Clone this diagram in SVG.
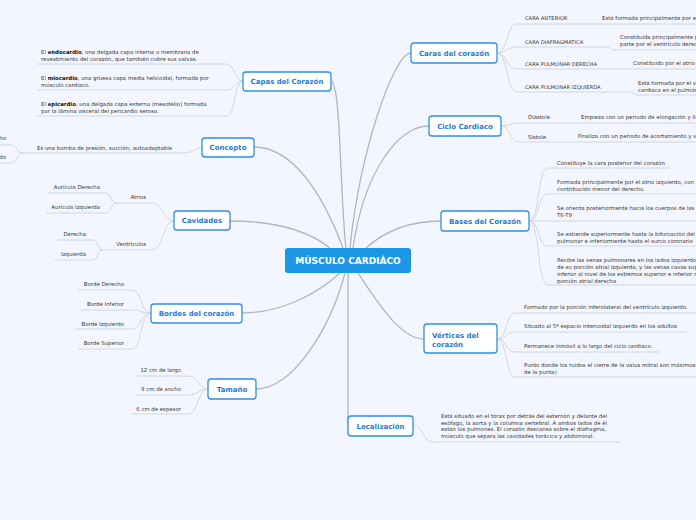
<svg xmlns="http://www.w3.org/2000/svg" width="696" height="520" viewBox="0 0 696 520">
<style>
.main{fill:none;stroke:#b3b6bd;stroke-width:1.3}
.sub{fill:none;stroke:#cfd3dc;stroke-width:0.9}
.box{fill:#fff;stroke:#2f8fe9;stroke-width:1.3}
.tt{font-family:"DejaVu Sans",Verdana,sans-serif;font-size:7px;font-weight:bold;fill:#1f7bd8;text-anchor:middle}
.t{font-family:"DejaVu Sans",Verdana,sans-serif;font-size:5.4px;fill:#383838}
.c{font-size:5.2px}
.e{text-anchor:end}
.b{font-weight:bold;fill:#111}
</style>
<rect width="696" height="520" fill="#f3f6fe"/>
<g id="connectors">
<path class="main" d="M331,81 C341,81 340,200 346,248"/>
<path class="main" d="M254,147 C292,147 322,192 343,248"/>
<path class="main" d="M230,221 C280,221 310,232 330,248"/>
<path class="main" d="M411,53 C394,53 360,150 350,248"/>
<path class="main" d="M429,126 C398,126 364,172 353,248"/>
<path class="main" d="M441,221 C410,221 386,230 366,248"/>
<path class="main" d="M242,313 C280,313 316,295 340,273"/>
<path class="main" d="M256,389 C292,389 330,330 345,273"/>
<path class="main" d="M424,339 C400,339 376,300 358,273"/>
<path class="main" d="M348,273 L348,425"/>
<path class="sub" d="M243,81 C234,81 236,64 226,64 L37,64"/>
<path class="sub" d="M243,81 C234,81 236,90 226,90 L37,90"/>
<path class="sub" d="M243,81 C234,81 236,116 226,116 L37,116"/>
<path class="sub" d="M202,148 C194,148 193,153 185,153 L23,153"/>
<path class="sub" d="M23,153 C16,153 18,145 10,145 L0,145"/>
<path class="sub" d="M23,153 C16,153 18,163 10,163 L0,163"/>
<path class="sub" d="M174,221 C163,221 163,203 152,203 L117,203"/>
<path class="sub" d="M174,221 C163,221 163,250 152,250 L103,250"/>
<path class="sub" d="M117,203 C110,203 112,193 105,193 L48,193"/>
<path class="sub" d="M117,203 C110,203 112,213 105,213 L46,213"/>
<path class="sub" d="M103,250 C97,250 99,240 92,240 L58,240"/>
<path class="sub" d="M103,250 C97,250 99,260 92,260 L55,260"/>
<path class="sub" d="M151,313 C140,313 142,290 132,290 L78,290"/>
<path class="sub" d="M151,313 C141,313 140,310 132,310 L80,310"/>
<path class="sub" d="M151,313 C141,313 141,329 132,329 L75,329"/>
<path class="sub" d="M151,313 C140,313 142,349 132,349 L78,349"/>
<path class="sub" d="M208,389 C198,389 198,376 188,376 L135,376"/>
<path class="sub" d="M208,389 C198,389 198,395 188,395 L137,395"/>
<path class="sub" d="M208,389 C198,389 198,414 188,414 L131,414"/>
<path class="sub" d="M497,53 C508,53 506,24 517,24 L696,24"/>
<path class="sub" d="M497,53 C506,53 507,47 517,47 L606,47 C611,47 610,50 615,50 L696,50"/>
<path class="sub" d="M497,53 C507,53 506,69 517,69 L696,69"/>
<path class="sub" d="M497,53 C508,53 506,92 517,92 L630,92 C634,92 633,95 638,95 L696,95"/>
<path class="sub" d="M501,126 C510,126 510,123 520,123 L696,123"/>
<path class="sub" d="M501,126 C512,126 508,142 520,142 L696,142"/>
<path class="sub" d="M529,221 C540,221 537,168 548,168 L670,168"/>
<path class="sub" d="M529,221 C540,221 537,194 548,194 L696,194"/>
<path class="sub" d="M529,221 L696,221"/>
<path class="sub" d="M529,221 C540,221 537,246 548,246 L696,246"/>
<path class="sub" d="M529,221 C540,221 537,285 548,285 L696,285"/>
<path class="sub" d="M497,339 C508,339 505,313 515,313 L696,313"/>
<path class="sub" d="M497,339 C508,339 505,332 515,332 L687,332"/>
<path class="sub" d="M497,339 C508,339 505,352 515,352 L660,352"/>
<path class="sub" d="M497,339 C508,339 505,377 515,377 L696,377"/>
<path class="sub" d="M413,425 C424,425 422,442 433,442 L620,442"/>
</g>
<g id="center">
<rect x="285" y="248" width="126" height="25" rx="3" fill="#1b97e5"/>
<text x="348" y="264.2" font-family="DejaVu Sans,Verdana,sans-serif" font-size="9" font-weight="bold" fill="#fff" text-anchor="middle">MÚSCULO CARDIÁCO</text>
</g>
<g id="capas">
<rect class="box" x="243" y="72" width="88" height="19" rx="3"/>
<text class="tt" x="287" y="84">Capas del Corazón</text>
<text class="t" x="41" y="54">El <tspan class="b">endocardio</tspan>, una delgada capa interna o membrana de</text>
<text class="t" x="41" y="60.5">revestimiento del corazón, que también cubre sus valvas.</text>
<text class="t" x="41" y="80">El <tspan class="b">miocardio</tspan>, una gruesa capa media helicoidal, formada por</text>
<text class="t" x="41" y="86.5">músculo cardiaco.</text>
<text class="t" x="41" y="105.5">El <tspan class="b">epicardio</tspan>, una delgada capa externa (mesotelio) formada</text>
<text class="t" x="41" y="112.5">por la lámina visceral del pericardio seroso.</text>
</g>
<g id="concepto">
<rect class="box" x="202" y="138" width="52" height="19" rx="3"/>
<text class="tt" x="228" y="150">Concepto</text>
<text class="t" x="37" y="149.5">Es una bomba de presión, succión, autoadaptable</text>
<text class="t e" x="6" y="140">Derecho</text>
<text class="t e" x="6" y="159">Izquierdo</text>
</g>
<g id="cavidades">
<rect class="box" x="174" y="211" width="56" height="19" rx="3"/>
<text class="tt" x="202" y="223">Cavidades</text>
<text class="t e" x="146" y="199">Atrios</text>
<text class="t e" x="146" y="246">Ventrículos</text>
<text class="t e" x="100" y="189">Aurícula Derecha</text>
<text class="t e" x="100" y="209">Aurícula Izquierda</text>
<text class="t e" x="86" y="235.5">Derecha</text>
<text class="t e" x="86" y="256">Izquierda</text>
</g>
<g id="bordes">
<rect class="box" x="151" y="304" width="91" height="19" rx="3"/>
<text class="tt" x="196.5" y="316">Bordes del corazón</text>
<text class="t e" x="124" y="286">Borde Derecho</text>
<text class="t e" x="124" y="306">Borde Inferior</text>
<text class="t e" x="124" y="325.5">Borde Izquierdo</text>
<text class="t e" x="124" y="345">Borde Superior</text>
</g>
<g id="tamano">
<rect class="box" x="208" y="379" width="48" height="20" rx="3"/>
<text class="tt" x="232" y="391.5">Tamaño</text>
<text class="t e" x="181" y="372">12 cm de largo</text>
<text class="t e" x="181" y="391">9 cm de ancho</text>
<text class="t e" x="181" y="411">6 cm de espesor</text>
</g>
<g id="caras">
<rect class="box" x="411" y="43" width="86" height="20" rx="3"/>
<text class="tt" x="454" y="55.5">Caras del corazón</text>
<text class="t c" x="525" y="20">CARA ANTERIOR</text>
<text class="t c" x="525" y="44">CARA DIAFRAGMÁTICA</text>
<text class="t c" x="525" y="66">CARA PULMONAR DERECHA</text>
<text class="t c" x="525" y="89">CARA PULMONAR IZQUIERDA</text>
<text class="t" x="602" y="20">Está formada principalmente por el ventrículo derecho.</text>
<text class="t" x="620" y="39">Constituida principalmente por el ventrículo izquierdo y en</text>
<text class="t" x="620" y="45.5">parte por el ventrículo derecho.</text>
<text class="t" x="633" y="65">Constituido por el atrio derecho.</text>
<text class="t" x="638" y="85">Está formada por el ventrículo izquierdo; forma la impresión</text>
<text class="t" x="638" y="91.5">cardiaca en el pulmón izquierdo.</text>
</g>
<g id="ciclo">
<rect class="box" x="429" y="116" width="72" height="20" rx="3"/>
<text class="tt" x="465" y="128.5">Ciclo Cardiaco</text>
<text class="t" x="528" y="119">Diástole</text>
<text class="t" x="528" y="139">Sístole</text>
<text class="t" x="581" y="118.5">Empieza con un periodo de elongación y llenado ventricular</text>
<text class="t" x="578" y="138">Finaliza con un periodo de acortamiento y vaciamiento ventricular</text>
</g>
<g id="bases">
<rect class="box" x="441" y="211" width="88" height="20" rx="3"/>
<text class="tt" x="485" y="223.5">Bases del Corazón</text>
<text class="t" x="557" y="165">Constituye la cara posterior del corazón</text>
<text class="t" x="557" y="184">Formada principalmente por el atrio izquierdo, con una</text>
<text class="t" x="557" y="191">contribución menor del derecho.</text>
<text class="t" x="557" y="210">Se orienta posteriormente hacia los cuerpos de las vértebras</text>
<text class="t" x="557" y="217">T6-T9</text>
<text class="t" x="557" y="235.5">Se extiende superiormente hasta la bifurcación del tronco</text>
<text class="t" x="557" y="242.5">pulmonar e inferiormente hasta el surco coronario</text>
<text class="t" x="557" y="262">Recibe las venas pulmonares en los lados izquierdo y derecho</text>
<text class="t" x="557" y="269">de su porción atrial izquierda, y las venas cavas superior e</text>
<text class="t" x="557" y="276">inferior al nivel de los extremos superior e inferior de su</text>
<text class="t" x="557" y="283">porción atrial derecha</text>
</g>
<g id="vertices">
<rect class="box" x="424" y="324" width="73" height="29" rx="3"/>
<text class="tt" x="432" y="338" text-anchor="start" style="text-anchor:start">Vértices del</text>
<text class="tt" x="432" y="347" style="text-anchor:start">corazón</text>
<text class="t" x="524" y="309">Formado por la porción inferolateral del ventrículo izquierdo.</text>
<text class="t" x="524" y="328">Situado al 5º espacio intercostal izquierdo en los adultos</text>
<text class="t" x="524" y="348">Permanece inmóvil a lo largo del ciclo cardiaco.</text>
<text class="t" x="524" y="367">Punto donde los ruidos el cierre de la valva mitral son máximos (latido</text>
<text class="t" x="524" y="374">de la punta)</text>
</g>
<g id="localizacion">
<rect class="box" x="348" y="416" width="65" height="20" rx="3"/>
<text class="tt" x="380.5" y="428.5">Localización</text>
<text class="t" x="441" y="418">Está situado en el tórax por detrás del esternón y delante del</text>
<text class="t" x="441" y="424.7">esófago, la aorta y la columna vertebral. A ambos lados de él</text>
<text class="t" x="441" y="431.3">están los pulmones. El corazón descansa sobre el diafragma,</text>
<text class="t" x="441" y="438">músculo que separa las cavidades torácica y abdominal.</text>
</g>
</svg>
